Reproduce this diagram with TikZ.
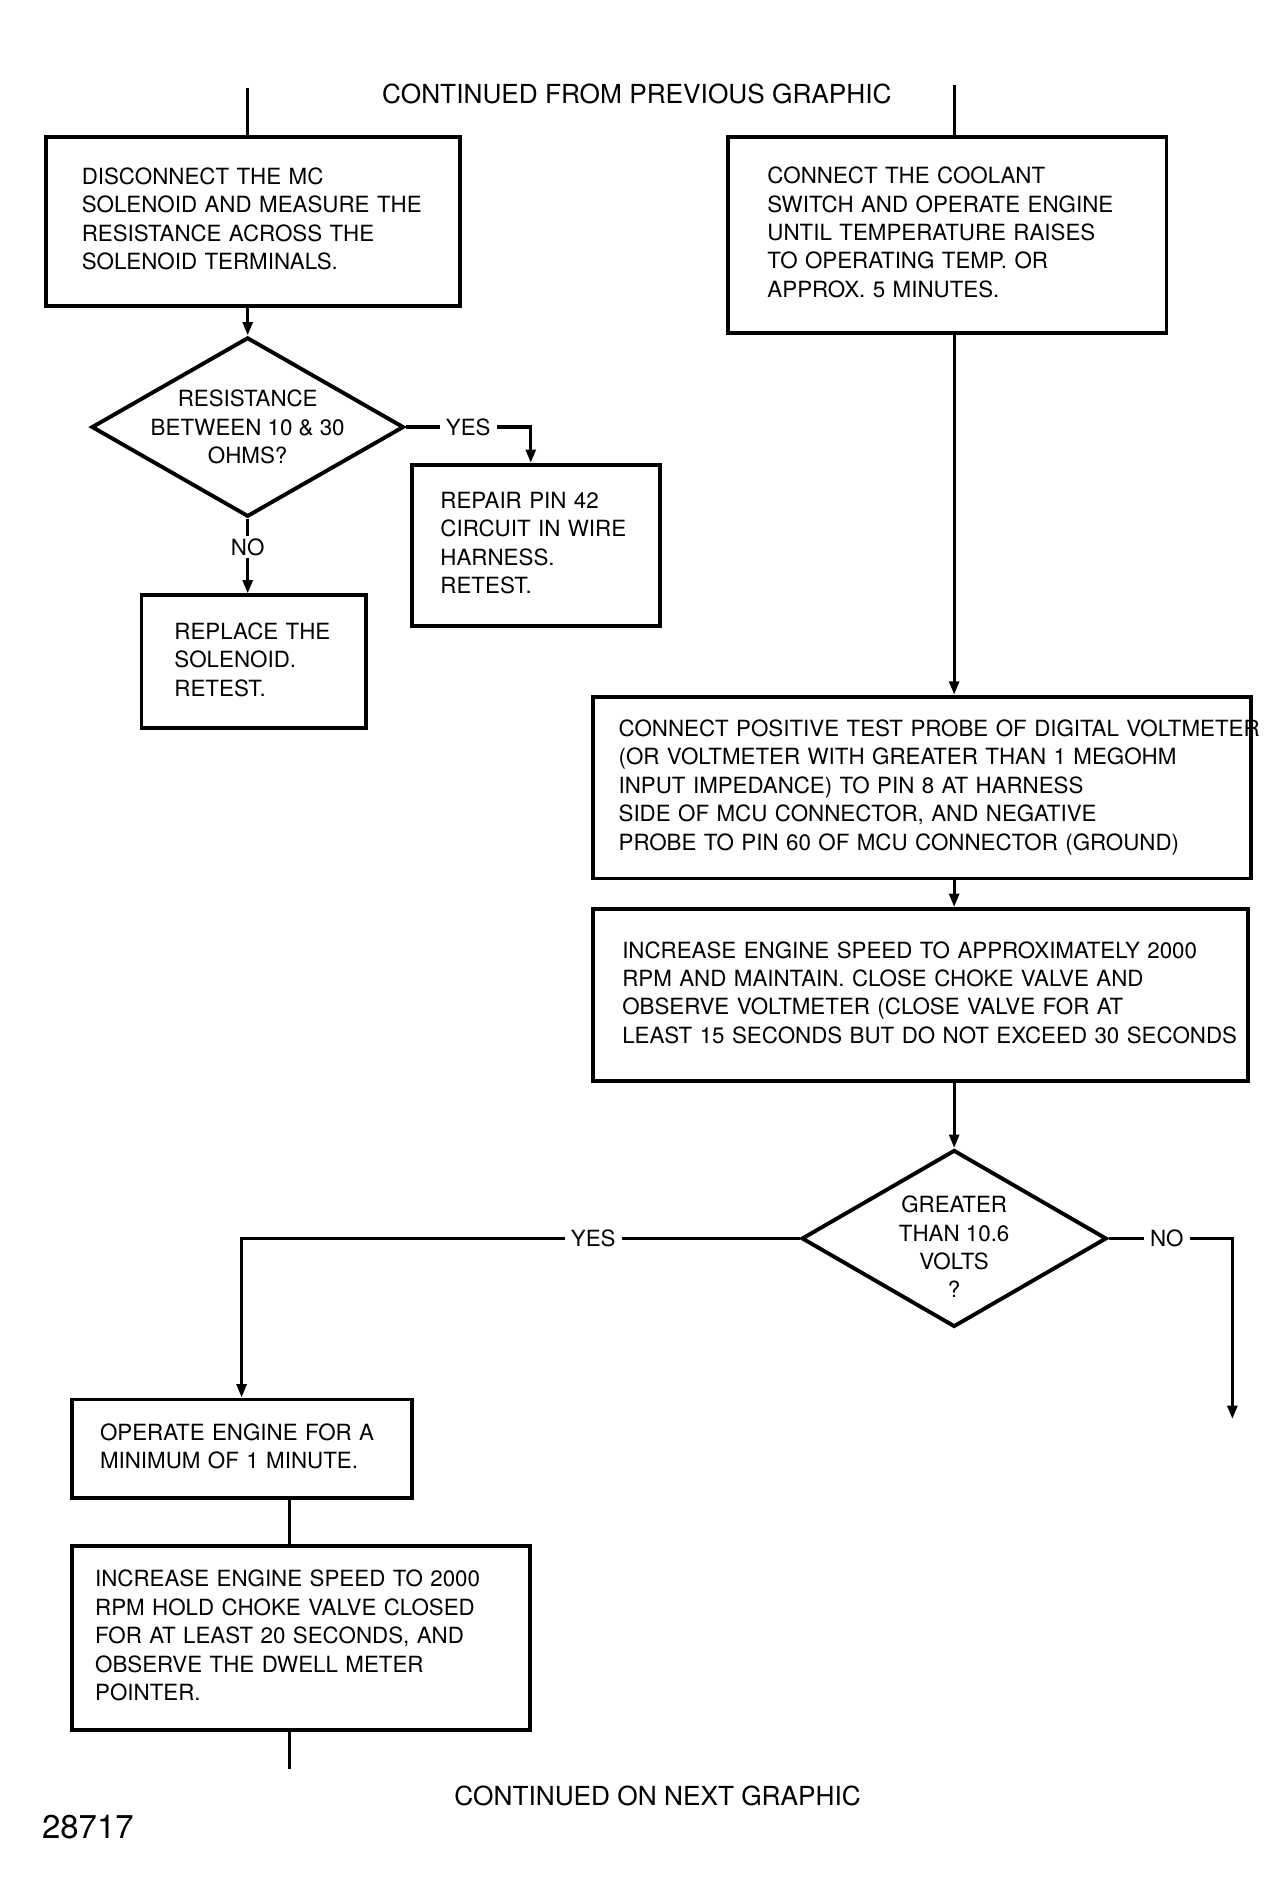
\documentclass[tikz,border=0pt]{standalone}
\usepackage{fontspec}
\usetikzlibrary{shapes.geometric, arrows.meta}
\newfontfamily\heros{TeX Gyre Heros}
\newcommand\stepfont{\heros\fontsize{18.3pt}{23.3pt}\selectfont}
\newcommand\notefont{\heros\fontsize{21.5pt}{26pt}\selectfont}
\newcommand\figfont{\heros\fontsize{27pt}{32pt}\selectfont}
\newcommand\steplines[1]{\begin{tabular}{@{}l@{}}#1\end{tabular}}

\begin{document}
\begin{tikzpicture}[x=1pt, y=-1pt,
        stepbox/.style={draw, rectangle, line width=3.2pt, align=left, inner ysep=0pt, font=\stepfont},
        decision/.style={draw, diamond, line width=3.2pt, inner sep=0pt},
        question/.style={align=center, inner sep=0pt, font=\stepfont},
        tag/.style={fill=white, inner xsep=5pt, inner ysep=2pt, font=\stepfont},
        note/.style={inner sep=0pt, font=\notefont},
        line/.style={line width=2.6pt},
        flow/.style={line width=2.6pt, -{Triangle[length=11pt, width=8pt]}}]
        \useasboundingbox (0,0) rectangle (1050,1558);

        \node[note] (prev) at (522,77) {CONTINUED FROM PREVIOUS GRAPHIC};
        \coordinate (inL) at (203,72);
        \coordinate (inR) at (782,70);

        % left branch
        \node[stepbox, text width=281pt, inner xsep=29pt, minimum height=139pt] (B1) at (207.5,181.5)
            {\steplines{DISCONNECT THE MC\\SOLENOID AND MEASURE THE\\RESISTANCE ACROSS THE\\SOLENOID TERMINALS.}};
        \node[decision, minimum width=256pt, minimum height=147pt] (D1) at (203,350) {};
        \node[question] (D1q) at (203,350) {RESISTANCE\\BETWEEN 10 \& 30\\OHMS?};
        \node[stepbox, text width=157pt, inner xsep=23pt, minimum height=132pt] (B3) at (439.5,447)
            {\steplines{REPAIR PIN 42\\CIRCUIT IN WIRE\\HARNESS.\\RETEST.}};
        \node[stepbox, text width=130pt, inner xsep=27pt, minimum height=109pt] (B4) at (208,542.5)
            {\steplines{REPLACE THE\\SOLENOID.\\RETEST.}};
        \coordinate (y1) at (435,350);

        \draw[line] (inL) -- (inL |- B1.north);
        \draw[flow] (inL |- B1.south) -- (D1.north);
        \draw[flow] (D1.east) -- node[tag] {YES} (y1) -- (y1 |- B3.north);
        \draw[flow] (D1.south) -- node[tag, pos=.38] {NO} (D1.south |- B4.north);

        % right branch
        \node[stepbox, text width=295pt, inner xsep=32pt, minimum height=161pt] (B2) at (776.5,192.5)
            {\steplines{CONNECT THE COOLANT\\SWITCH AND OPERATE ENGINE\\UNTIL TEMPERATURE RAISES\\TO OPERATING TEMP. OR\\APPROX. 5 MINUTES.}};
        \node[stepbox, text width=497pt, inner xsep=21pt, minimum height=149pt] (B5) at (755.5,645.5)
            {\steplines{CONNECT POSITIVE TEST PROBE OF DIGITAL VOLTMETER\\(OR VOLTMETER WITH GREATER THAN 1 MEGOHM\\INPUT IMPEDANCE) TO PIN 8 AT HARNESS\\SIDE OF MCU CONNECTOR, AND NEGATIVE\\PROBE TO PIN 60 OF MCU CONNECTOR (GROUND)}};
        \node[stepbox, text width=489pt, inner xsep=24pt, minimum height=141pt] (B6) at (754.5,815.5)
            {\steplines{INCREASE ENGINE SPEED TO APPROXIMATELY 2000\\RPM AND MAINTAIN. CLOSE CHOKE VALVE AND\\OBSERVE VOLTMETER (CLOSE VALVE FOR AT\\LEAST 15 SECONDS BUT DO NOT EXCEED 30 SECONDS}};
        \node[decision, minimum width=250pt, minimum height=145pt] (D2) at (782,1015) {};
        \node[question] (D2q) at (782,1022) {GREATER\\THAN 10.6\\VOLTS\\?};

        \draw[line] (inR) -- (inR |- B2.north);
        \draw[flow] (inR |- B2.south) -- (inR |- B5.north);
        \draw[flow] (inR |- B5.south) -- (inR |- B6.north);
        \draw[flow] (inR |- B6.south) -- (D2.north);

        % after the voltage check
        \node[stepbox, text width=233pt, inner xsep=23pt, minimum height=81pt] (B7) at (198.5,1187.5)
            {\steplines{OPERATE ENGINE FOR A\\MINIMUM OF 1 MINUTE.}};
        \node[stepbox, text width=337pt, inner xsep=19pt, minimum height=151pt] (B8) at (246.5,1342.5)
            {\steplines{INCREASE ENGINE SPEED TO 2000\\RPM HOLD CHOKE VALVE CLOSED\\FOR AT LEAST 20 SECONDS, AND\\OBSERVE THE DWELL METER\\POINTER.}};
        \coordinate (y2) at (198,1015);
        \coordinate (n2) at (1010,1015);
        \coordinate (n2end) at (1010,1163);
        \coordinate (outL) at (237,1450);

        \draw[flow] (D2.west) -- node[tag, pos=.37] {YES} (y2) -- (y2 |- B7.north);
        \draw[flow] (D2.east) -- node[tag, pos=.47] {NO} (n2) -- (n2end);
        \draw[line] (outL |- B7.south) -- (outL |- B8.north);
        \draw[line] (outL |- B8.south) -- (outL);

        \node[note] (next) at (539,1472) {CONTINUED ON NEXT GRAPHIC};
        \node[note, font=\figfont] (fig) at (72,1497) {28717};
    \end{tikzpicture}
\end{document}
